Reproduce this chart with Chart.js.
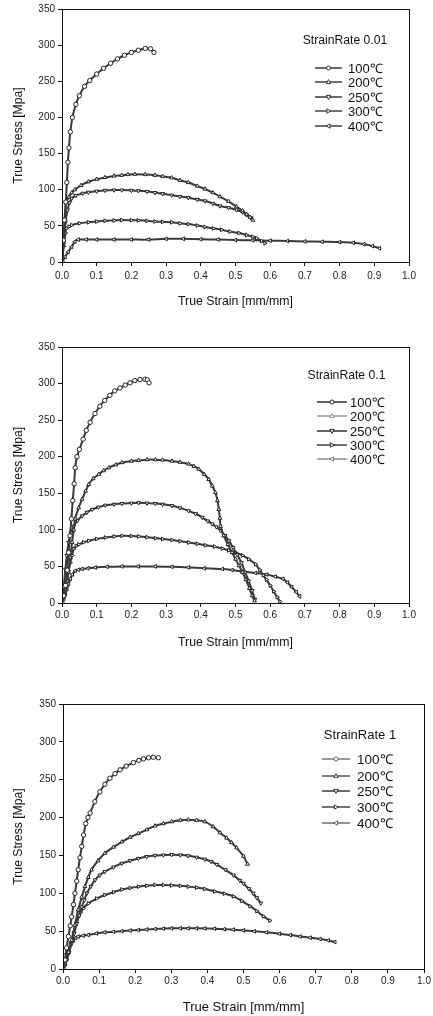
<!DOCTYPE html>
<html>
<head>
<meta charset="utf-8">
<script src="https://cdn.jsdelivr.net/npm/chart.js@4.4.0/dist/chart.umd.min.js"></script>
<style>
  body { margin: 0; background: #fff; width: 433px; height: 1016px; position: relative; overflow: hidden;
         font-family: 'Liberation Sans', Arial, sans-serif; }
  .panel { position: absolute; left: 0; width: 433px; }
  .panel canvas { position: absolute; left: 0; top: 0; }
  .legTitle { position: absolute; color: #111; white-space: nowrap; transform: translate(-50%, -50%); }
  .legRow { position: absolute; display: flex; align-items: center; color: #111; white-space: nowrap; transform: translateY(-50%); }
  .legRow svg { display: block; }
</style>
</head>
<body>
<div class="panel" id="p1"><canvas id="c1"></canvas></div>
<div class="panel" id="p2"><canvas id="c2"></canvas></div>
<div class="panel" id="p3"><canvas id="c3"></canvas></div>
<script>
// --- datos ---
const temps = ['100℃', '200℃', '250℃', '300℃', '400℃'];
const rateTitles = ['StrainRate 0.01', 'StrainRate 0.1', 'StrainRate 1'];
const strainTicks = [0, 0.1, 0.2, 0.3, 0.4, 0.5, 0.6, 0.7, 0.8, 0.9, 1.0];
const stressTicks = [0, 50, 100, 150, 200, 250, 300, 350];
const xTitle = 'True Strain [mm/mm]';
const yTitle = 'True Stress [Mpa]';

// StrainRate 0.01  [strain, stress]
const r001_100 = [[0,0],[0.004,30],[0.007,58],[0.011,83],[0.014,110],[0.017,138],[0.02,158],[0.024,180],[0.03,200],[0.04,218],[0.05,230],[0.065,243],[0.08,251],[0.1,260],[0.12,268],[0.14,275],[0.16,281],[0.18,286],[0.2,290],[0.22,293],[0.24,295.5],[0.255,295],[0.265,290]];
const r001_200 = [[0,0],[0.005,30],[0.009,60],[0.012,82],[0.02,90],[0.028,96],[0.037,100],[0.055,106],[0.076,111],[0.1,114.5],[0.124,117],[0.15,119],[0.172,120],[0.19,121],[0.21,121.5],[0.24,121],[0.268,120],[0.29,118.5],[0.316,116.5],[0.34,113],[0.364,110],[0.39,105],[0.412,101],[0.435,96],[0.455,90.5],[0.48,84],[0.503,76.5],[0.52,71],[0.532,66],[0.542,62],[0.55,58]];
const r001_250 = [[0,0],[0.005,25],[0.01,55],[0.016,72],[0.022,82],[0.028,88],[0.04,92],[0.06,95],[0.076,96.5],[0.1,98],[0.124,99],[0.15,99.5],[0.172,99.5],[0.2,99],[0.22,98.5],[0.245,97.5],[0.268,96],[0.29,94.5],[0.316,92.5],[0.34,90.5],[0.364,89],[0.39,86.5],[0.412,84.5],[0.435,81],[0.455,77.5],[0.48,75],[0.503,72],[0.52,69],[0.532,65],[0.545,61]];
const r001_300 = [[0,0],[0.005,22],[0.01,40],[0.0135,46.5],[0.02,49],[0.028,51],[0.05,53.5],[0.076,55],[0.1,56],[0.124,57],[0.15,57.5],[0.172,58],[0.2,57.8],[0.22,57.6],[0.245,57],[0.268,56],[0.29,55.5],[0.316,55],[0.34,53.5],[0.364,52.5],[0.39,50.5],[0.412,48.5],[0.436,46.5],[0.46,44.5],[0.484,42],[0.51,40],[0.532,37.3],[0.55,35],[0.561,32.8],[0.575,29],[0.585,26]];
const r001_400 = [[0,0],[0.009,7],[0.018,14],[0.028,21],[0.037,28],[0.047,31],[0.07,31],[0.1,31],[0.15,31],[0.2,31],[0.25,31],[0.3,32],[0.35,32],[0.4,31.5],[0.45,31],[0.5,30.5],[0.55,30],[0.6,29.5],[0.65,29],[0.7,28.5],[0.75,28],[0.8,27.5],[0.84,26.5],[0.87,24.5],[0.895,22],[0.915,19]];

// StrainRate 0.1
const r01_100 = [[0,0],[0.005,10],[0.01,24],[0.015,45],[0.019,69],[0.023,92],[0.027,115],[0.031,140],[0.035,163],[0.038,185],[0.043,200],[0.05,210],[0.061,224],[0.07,236],[0.081,247],[0.095,259],[0.109,269],[0.123,277],[0.138,284],[0.152,290],[0.167,294],[0.182,298],[0.196,301],[0.21,304],[0.225,305.5],[0.239,306],[0.246,305],[0.251,301]];
const r01_200 = [[0,0],[0.005,8],[0.01,18],[0.015,30],[0.019,42],[0.024,62],[0.029,83],[0.034,100],[0.038,115],[0.048,130],[0.058,142],[0.068,153],[0.077,162],[0.09,170],[0.106,176],[0.12,181],[0.135,185],[0.155,189],[0.173,192],[0.2,194],[0.221,195],[0.245,196],[0.269,196],[0.29,195.5],[0.317,194],[0.34,192.5],[0.365,190],[0.38,187],[0.394,183],[0.41,176],[0.423,169],[0.433,160],[0.442,151],[0.448,140],[0.452,128],[0.455,116],[0.457,105],[0.466,92],[0.478,80],[0.49,69],[0.5,60],[0.51,51],[0.52,42],[0.53,32],[0.54,20],[0.548,10],[0.555,3]];
const r01_250 = [[0,0],[0.005,22],[0.0096,46],[0.014,65],[0.019,83],[0.026,96],[0.034,105],[0.045,113],[0.058,119],[0.072,124],[0.087,128],[0.105,131],[0.125,133.6],[0.15,135],[0.173,136],[0.2,136.5],[0.221,137],[0.245,136.5],[0.269,136],[0.29,135],[0.317,133],[0.34,130],[0.365,126],[0.385,122],[0.404,117],[0.42,112],[0.433,108],[0.445,104],[0.457,99],[0.47,92],[0.481,85],[0.493,76],[0.505,66],[0.517,55],[0.528,42],[0.538,30],[0.548,17],[0.556,5]];
const r01_300 = [[0,0],[0.005,8],[0.01,18],[0.014,33],[0.019,44],[0.024,55],[0.029,65],[0.034,74],[0.041,78],[0.048,80],[0.062,83],[0.077,85],[0.1,87.5],[0.125,89.5],[0.15,91],[0.173,91.8],[0.2,91.5],[0.221,91],[0.245,90],[0.269,88.6],[0.29,87.5],[0.317,86],[0.34,84.5],[0.365,82.7],[0.39,81],[0.413,79],[0.44,77],[0.462,74.5],[0.48,72],[0.5,69],[0.52,65],[0.538,60],[0.558,53],[0.57,45],[0.58,38],[0.589,32],[0.6,24],[0.61,16],[0.62,8],[0.628,2]];
const r01_400 = [[0,0],[0.005,5.5],[0.01,12],[0.014,19],[0.019,26],[0.024,33],[0.03,39],[0.038,44],[0.048,45.5],[0.058,46.5],[0.075,47.5],[0.096,48.6],[0.13,49.5],[0.173,50],[0.22,50],[0.269,50],[0.317,49.5],[0.365,48.6],[0.41,47.5],[0.462,46.4],[0.49,45],[0.519,43],[0.558,41],[0.59,39],[0.615,36],[0.637,33],[0.65,28],[0.662,22],[0.675,15],[0.685,9]];

// StrainRate 1
const r1_100 = [[0,0],[0.0055,12],[0.01,28],[0.015,43],[0.02,57],[0.024,69],[0.029,85],[0.033,100],[0.038,116],[0.042,131],[0.047,147],[0.052,162],[0.057,177],[0.063,192],[0.069,200],[0.075,206],[0.088,221],[0.102,234],[0.116,244],[0.13,252],[0.144,258],[0.158,263],[0.175,268],[0.195,272.6],[0.21,275.5],[0.223,277.5],[0.237,279],[0.25,279.7],[0.264,279]];
const r1_200 = [[0,0],[0.0055,7.5],[0.015,22],[0.024,38],[0.033,58],[0.042,78],[0.052,95],[0.061,109],[0.07,121],[0.079,131],[0.097,143],[0.116,153],[0.14,161],[0.163,168],[0.186,174],[0.209,179],[0.232,184],[0.255,189],[0.278,192],[0.301,194.6],[0.325,196.5],[0.347,197],[0.37,196.5],[0.393,194.6],[0.416,188],[0.435,180],[0.453,173],[0.467,167],[0.481,160],[0.5,149],[0.511,138.5]];
const r1_250 = [[0,0],[0.005,4],[0.01,12],[0.017,22],[0.024,34],[0.031,47],[0.038,60],[0.045,71],[0.052,82],[0.059,91],[0.066,100],[0.077,109],[0.089,117.6],[0.102,124],[0.116,128.6],[0.14,134.5],[0.163,139.6],[0.186,143],[0.209,146],[0.232,148.5],[0.255,150],[0.278,150.5],[0.301,151],[0.325,150.5],[0.347,149.5],[0.37,147.5],[0.393,145],[0.41,142],[0.426,138],[0.45,131],[0.472,124],[0.49,117],[0.5,113],[0.515,106],[0.527,100],[0.537,94],[0.548,87]];
const r1_300 = [[0,0],[0.005,5],[0.01,12],[0.015,20.7],[0.022,34],[0.029,47],[0.035,58],[0.042,69],[0.049,75],[0.056,80],[0.07,86.7],[0.093,93],[0.116,97.8],[0.14,101.5],[0.163,105],[0.186,107],[0.209,108.8],[0.232,110],[0.255,111],[0.278,111],[0.301,110.5],[0.325,109.8],[0.347,108.8],[0.37,107.5],[0.393,105.7],[0.42,102.5],[0.447,99.5],[0.472,96],[0.495,90],[0.518,83],[0.537,76.5],[0.555,69.5],[0.573,64]];
const r1_400 = [[0,0],[0.0055,12],[0.01,20],[0.015,27],[0.022,33],[0.029,38],[0.035,41],[0.042,42.7],[0.056,44],[0.07,45],[0.093,47],[0.116,48.4],[0.14,49.2],[0.163,50],[0.186,50.8],[0.209,51.5],[0.232,52.2],[0.255,52.8],[0.278,53.3],[0.301,53.7],[0.325,53.8],[0.347,53.7],[0.37,53.7],[0.393,53.6],[0.42,53.2],[0.447,52.6],[0.472,52],[0.5,51],[0.53,49.8],[0.564,48.4],[0.6,46.5],[0.63,44.8],[0.657,43],[0.685,41.3],[0.712,39.6],[0.735,37.8],[0.753,35.6]];

const seriesByRate = [
  [r001_100, r001_200, r001_250, r001_300, r001_400],
  [r01_100, r01_200, r01_250, r01_300, r01_400],
  [r1_100, r1_200, r1_250, r1_300, r1_400]
];

// --- estilo / posiciones ---
const markers = [
  { style: 'circle', rot: 0 },
  { style: 'triangle', rot: 0 },
  { style: 'triangle', rot: 180 },
  { style: 'triangle', rot: 90 },
  { style: 'triangle', rot: 270 }
];
// colores de las curvas (todas oscuras en la figura)
const lineColor = '#3a3a3a';
const pointColor = '#222';
// colores de la leyenda
const legendColors = [
  ['#1a1a1a', '#222', '#1a1a1a', '#2a2a2a', '#222'],
  ['#111', '#8a8a8a', '#111', '#222', '#7a7a7a'],
  ['#666', '#333', '#1a1a1a', '#2a2a2a', '#555']
];
const panels = [
  { top: 0,   h: 312, areaTop: 9,  areaBottom: 262, left: 62, padRight: 24, tickPad: 4, titlePad: 3, titleSize: 12.3,
    leg: { tx: 345, ty: 39.5, tsize: 12.2, rows: [68, 82.4, 96.8, 111.2, 125.6], sx: 315, sw: 27, gap: 6, esize: 13 } },
  { top: 335, h: 320, areaTop: 12, areaBottom: 268, left: 62, padRight: 24, tickPad: 2, titlePad: 5, titleSize: 12.3,
    leg: { tx: 346.5, ty: 375, tsize: 12.2, rows: [402, 416.3, 430.6, 444.9, 459.2], sx: 317, sw: 30, gap: 3, esize: 13 } },
  { top: 690, h: 326, areaTop: 14, areaBottom: 279, left: 63, padRight: 9, tickPad: 2, titlePad: 1, titleSize: 13,
    leg: { tx: 360, ty: 734, tsize: 13, rows: [759, 775.5, 791, 806.5, 822.5], sx: 322, sw: 28, gap: 7, esize: 13.5 } }
];
const FONT = "'Liberation Sans', Arial, sans-serif";

// marco completo alrededor del area de trazado
const framePlugin = {
  id: 'frame',
  afterDraw(chart) {
    const { ctx, chartArea: a } = chart;
    ctx.save();
    ctx.strokeStyle = '#111';
    ctx.lineWidth = 1;
    ctx.strokeRect(Math.round(a.left) + 0.5, Math.round(a.top) + 0.5, Math.round(a.right - a.left), Math.round(a.bottom - a.top));
    ctx.restore();
  }
};

function markerSvg(i, color, w) {
  const cx = w / 2, cy = 5;
  let shape;
  if (markers[i].style === 'circle') {
    shape = `<circle cx="${cx}" cy="${cy}" r="2" fill="#fff" stroke="${color}" stroke-width="0.9"/>`;
  } else {
    shape = `<polygon points="${cx},${cy - 2.4} ${cx + 2.2},${cy + 1.6} ${cx - 2.2},${cy + 1.6}" fill="#fff" stroke="${color}" stroke-width="0.9" transform="rotate(${markers[i].rot} ${cx} ${cy})"/>`;
  }
  return `<svg width="${w}" height="10"><line x1="0" y1="${cy}" x2="${w}" y2="${cy}" stroke="${color}" stroke-width="1.3"/>${shape}</svg>`;
}

panels.forEach((p, k) => {
  const wrap = document.getElementById('p' + (k + 1));
  wrap.style.top = p.top + 'px';
  wrap.style.height = p.h + 'px';
  const cv = document.getElementById('c' + (k + 1));
  cv.width = 433; cv.height = p.h;

  const datasets = seriesByRate[k].map((serie, i) => ({
    label: temps[i],
    data: serie.map(d => ({ x: d[0], y: d[1] })),
    showLine: true,
    borderColor: lineColor,
    borderWidth: 2,
    pointStyle: markers[i].style,
    pointRotation: markers[i].rot,
    pointRadius: 2.2,
    pointBorderWidth: 1,
    pointBackgroundColor: '#fff',
    pointBorderColor: pointColor,
    tension: 0.3
  }));

  new Chart(cv, {
    type: 'scatter',
    data: { datasets: datasets },
    plugins: [framePlugin],
    options: {
      responsive: false,
      animation: false,
      layout: { padding: { top: p.areaTop, right: p.padRight, left: 0, bottom: 0 } },
      plugins: { legend: { display: false }, tooltip: { enabled: false } },
      scales: {
        x: {
          type: 'linear', min: 0, max: 1,
          afterBuildTicks: s => { s.ticks = strainTicks.map(v => ({ value: v })); },
          afterFit: s => { s.height = p.h - p.areaBottom; },
          grid: { drawOnChartArea: false, drawTicks: true, tickLength: 4, color: '#111' },
          border: { color: '#111', width: 1 },
          ticks: { padding: p.tickPad, color: '#222', font: { family: FONT, size: 10 }, maxRotation: 0,
                   callback: v => Number(v).toFixed(1) },
          title: { display: true, text: xTitle, color: '#111', font: { family: FONT, size: p.titleSize },
                   padding: { top: 0, bottom: p.titlePad } }
        },
        y: {
          type: 'linear', min: 0, max: 350,
          afterBuildTicks: s => { s.ticks = stressTicks.map(v => ({ value: v })); },
          afterFit: s => { s.width = p.left; },
          grid: { drawOnChartArea: false, drawTicks: true, tickLength: 4, color: '#111' },
          border: { color: '#111', width: 1 },
          ticks: { padding: 3, color: '#222', font: { family: FONT, size: 10 } },
          title: { display: true, text: yTitle, color: '#111', font: { family: FONT, size: 12.2 },
                   padding: { top: 11, bottom: 0 } }
        }
      }
    }
  });

  // leyenda HTML dentro del area de trazado
  const L = p.leg;
  let html = `<div class="legTitle" style="left:${L.tx}px;top:${L.ty - p.top}px;font-size:${L.tsize}px">${rateTitles[k]}</div>`;
  temps.forEach((t, i) => {
    html += `<div class="legRow" style="left:${L.sx}px;top:${L.rows[i] - p.top}px;font-size:${L.esize}px">` +
            markerSvg(i, legendColors[k][i], L.sw) +
            `<span style="margin-left:${L.gap}px">${t}</span></div>`;
  });
  const box = document.createElement('div');
  box.innerHTML = html;
  while (box.firstChild) wrap.appendChild(box.firstChild);
});
</script>
</body>
</html>
